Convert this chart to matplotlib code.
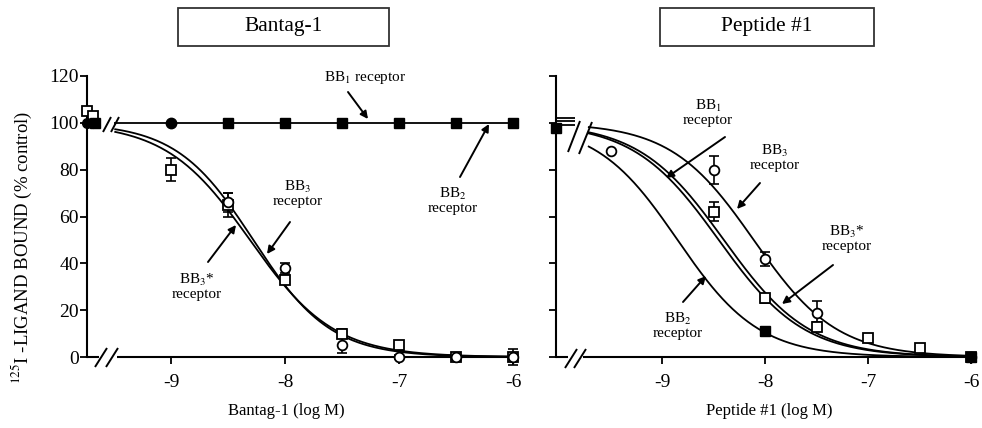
import numpy as np
import matplotlib
matplotlib.use("Agg")
import matplotlib.pyplot as plt
from matplotlib.patches import Rectangle

plt.rcParams['font.family'] = ['Liberation Serif', 'DejaVu Serif']
plt.rcParams['mathtext.fontset'] = 'stix'
plt.rcParams['axes.unicode_minus'] = False

W, H = 982, 428

# ---------------- data: Bantag-1 panel ----------------
x_ticks = [-9, -8, -7, -6]
y_ticks = [0, 20, 40, 60, 80, 100, 120]

b_bb1_x = [-8.5, -8, -7.5, -7, -6.5, -6]
b_bb1_y = [100, 100, 100, 100, 100, 100]
b_bb2_x = [-9]
b_bb2_y = [100]
b_bb3_x = [-8.5, -8, -7.5, -7, -6.5, -6]
b_bb3_y = [66, 38, 5, 0, 0, 0]
b_bb3_err = [4, 2, 3.5, 1, 0, 0]
b_bb3s_x = [-9, -8.5, -8, -7.5, -7, -6.5, -6]
b_bb3s_y = [80, 65, 33, 10, 5, 0, 0]
b_bb3s_err = [5, 5, 2, 2, 2, 1, 3.5]
b_ctrl_open = [105, 103]
b_ctrl_fill = [100, 100]
b_flat_level = 100
# fitted sigmoid parameters (logIC50, Hill slope)
b_fit_bb3 = (-8.28, 1.28)
b_fit_bb3s = (-8.31, 1.18)

# ---------------- data: Peptide #1 panel ----------------
p_bb2_x = [-8, -6]
p_bb2_y = [11, 0]
p_bb2_err = [2, 0]
p_bb3_x = [-9.5, -8.5, -8, -7.5, -6]
p_bb3_y = [88, 80, 42, 19, 0]
p_bb3_err = [0, 6, 3, 5, 0]
p_bb3s_x = [-8.5, -8, -7.5, -7, -6.5, -6]
p_bb3s_y = [62, 25, 13, 8, 4, 0]
p_bb3s_err = [4, 2, 2, 0, 0, 0]
p_ctrl_fill = [98]
p_ctrl_tops = [102, 100.6, 99]
p_fit_bb1 = (-8.45, 1.05)
p_fit_bb3s = (-8.40, 1.05)
p_fit_bb3 = (-8.11, 1.08)
p_fit_bb2 = (-8.85, 1.10)


def sigmoid(x, params):
    c, h = params
    return 100.0 / (1.0 + 10 ** (h * (x - c)))


fig = plt.figure(figsize=(W / 100, H / 100), dpi=100)
ax1 = fig.add_axes([87 / W, 1 - 357 / H, (513 - 87) / W, (357 - 76) / H])
ax2 = fig.add_axes([556 / W, 1 - 357 / H, (971 - 556) / W, (357 - 76) / H])

ax1.set_xlim(-9.74, -6.0)
ax2.set_xlim(-10.03, -6.0)
for ax in (ax1, ax2):
    ax.set_ylim(0, 120)
    ax.set_yticks(y_ticks)
    ax.set_xticks(x_ticks)
    ax.set_xticklabels([str(t) for t in x_ticks])
    for s in ('top', 'right', 'bottom'):
        ax.spines[s].set_visible(False)
    ax.spines['left'].set_linewidth(1.5)
    ax.tick_params(direction='out', length=5, width=1.3, labelsize=14, pad=1)
    ax.tick_params(axis='x', pad=7)
    ax.patch.set_alpha(0)

ax1.set_yticklabels([str(t) for t in y_ticks])
ax2.set_yticklabels([])

LW = 1.3
CUR = dict(color='black', lw=LW, solid_capstyle='butt')
EB = dict(ecolor='black', elinewidth=1.2, capsize=3.5, capthick=1.2, ls='none', clip_on=False)


def p2d(ax, px, py):
    return ax.transData.inverted().transform((px, H - py))


def seg(ax, p0, p1, lw=1.4):
    a = p2d(ax, *p0)
    b = p2d(ax, *p1)
    ax.plot([a[0], b[0]], [a[1], b[1]], color='black', lw=lw, clip_on=False,
            solid_capstyle='butt')


# ---------- Panel 1 ----------
xa = np.linspace(-9.5, -6.0, 300)
ax1.plot(xa, sigmoid(xa, b_fit_bb3), **CUR)
ax1.plot(xa, sigmoid(xa, b_fit_bb3s), **CUR)
ax1.plot([-9.5, -6.0], [b_flat_level, b_flat_level], **CUR)
ctrl_x1 = ax1.get_xlim()[0]
ax1.plot([ctrl_x1, -9.62], [b_flat_level, b_flat_level], **CUR, clip_on=False)

ax1.errorbar(b_bb3s_x, b_bb3s_y, yerr=b_bb3s_err, fmt='none', **EB)
ax1.errorbar(b_bb3_x, b_bb3_y, yerr=b_bb3_err, fmt='none', **EB)
ax1.plot(b_bb3s_x, b_bb3s_y, 's', ms=7, mfc='white', mec='black', mew=1.3, ls='none', clip_on=False, zorder=4)
ax1.plot(b_bb3_x, b_bb3_y, 'o', ms=7, mfc='white', mec='black', mew=1.3, ls='none', clip_on=False, zorder=5)
ax1.plot(b_bb1_x, b_bb1_y, 's', ms=6.5, color='black', ls='none', clip_on=False, zorder=5)
ax1.plot(b_bb2_x, b_bb2_y, 'o', ms=7.5, color='black', ls='none', clip_on=False, zorder=5)
ax1.plot([ctrl_x1, ctrl_x1 + 0.05], b_ctrl_open, 's', ms=7, mfc='white', mec='black', mew=1.3, ls='none', clip_on=False, zorder=4)
ax1.plot([ctrl_x1, ctrl_x1 + 0.05], b_ctrl_fill, 'o', ms=7, color='black', ls='none', clip_on=False, zorder=5)
ax1.plot([ctrl_x1 + 0.07], [b_flat_level], 's', ms=6.5, color='black', clip_on=False, zorder=5)

# x-axis with break
seg(ax1, (87, 357), (99, 357), lw=1.5)
seg(ax1, (117, 357), (513, 357), lw=1.5)
seg(ax1, (95, 367), (107, 348))
seg(ax1, (106, 367), (118, 348))
# break on the 100 line
seg(ax1, (103, 132), (111, 117))
seg(ax1, (111, 132), (119, 117))

# ---------- Panel 2 ----------
xb = np.linspace(-9.72, -6.0, 300)
for prm in (p_fit_bb1, p_fit_bb3s, p_fit_bb3, p_fit_bb2):
    ax2.plot(xb, sigmoid(xb, prm), **CUR)
ctrl_x2 = ax2.get_xlim()[0]
for v in p_ctrl_tops:
    ax2.plot([ctrl_x2, ctrl_x2 + 0.18], [v, v], **CUR, clip_on=False)

ax2.errorbar(p_bb3s_x, p_bb3s_y, yerr=p_bb3s_err, fmt='none', **EB)
ax2.errorbar(p_bb3_x, p_bb3_y, yerr=p_bb3_err, fmt='none', **EB)
ax2.errorbar(p_bb2_x, p_bb2_y, yerr=p_bb2_err, fmt='none', **EB)
ax2.plot(p_bb3s_x, p_bb3s_y, 's', ms=7, mfc='white', mec='black', mew=1.3, ls='none', clip_on=False, zorder=4)
ax2.plot(p_bb3_x, p_bb3_y, 'o', ms=7, mfc='white', mec='black', mew=1.3, ls='none', clip_on=False, zorder=5)
ax2.plot(p_bb2_x, p_bb2_y, 's', ms=7, color='black', ls='none', clip_on=False, zorder=6)
ax2.plot([ctrl_x2], p_ctrl_fill, 's', ms=7, color='black', ls='none', clip_on=False, zorder=6)

seg(ax2, (556, 357), (568, 357), lw=1.5)
seg(ax2, (583, 357), (971, 357), lw=1.5)
seg(ax2, (565, 368), (577, 349))
seg(ax2, (574, 368), (586, 349))
seg(ax2, (568, 152), (580, 121))
seg(ax2, (579, 154), (592, 122))

# ---------- annotations ----------
ARW = dict(arrowstyle='-|>', color='black', lw=1.4, mutation_scale=11, shrinkA=0, shrinkB=0)
TXT = dict(fontsize=11, ha='center', va='center', linespacing=1.0)


def note(ax, text, tpos, tail, head):
    ax.text(*p2d(ax, *tpos), text, **TXT)
    ax.annotate('', xy=p2d(ax, *head), xytext=p2d(ax, *tail), arrowprops=ARW,
                annotation_clip=False)


note(ax1, 'BB$_1$ receptor', (365, 77), (348, 92), (368, 119))
note(ax1, 'BB$_2$\nreceptor', (453, 200), (460, 177), (489, 124))
note(ax1, 'BB$_3$\nreceptor', (298, 193), (290, 222), (267, 254))
note(ax1, 'BB$_3$*\nreceptor', (197, 286), (208, 262), (236, 225))

note(ax2, 'BB$_1$\nreceptor', (708, 112), (725, 137), (666, 178))
note(ax2, 'BB$_3$\nreceptor', (775, 157), (760, 183), (737, 209))
note(ax2, 'BB$_3$*\nreceptor', (847, 238), (833, 265), (782, 304))
note(ax2, 'BB$_2$\nreceptor', (678, 325), (683, 302), (706, 276))

# ---------- axis labels ----------
fig.text(286 / W, 1 - 411 / H, 'Bantag-1 (log M)', fontsize=12, ha='center', va='center')
fig.text(769 / W, 1 - 411 / H, 'Peptide #1 (log M)', fontsize=12, ha='center', va='center')
fig.text(22 / W, 1 - 247 / H, '$^{125}$I -LIGAND BOUND (% control)', fontsize=13.5,
         rotation=90, ha='center', va='center')

# ---------- title boxes ----------
for (x0, x1, label) in ((178, 389, 'Bantag-1'), (660, 874, 'Peptide #1')):
    fig.add_artist(Rectangle((x0 / W, 1 - 46 / H), (x1 - x0) / W, 38 / H,
                             transform=fig.transFigure, fill=False,
                             edgecolor='#333333', lw=1.3))
    fig.text((x0 + x1) / 2 / W, 1 - 27 / H, label, fontsize=15.5, ha='center', va='center')

fig.savefig('out.png', dpi=100)
